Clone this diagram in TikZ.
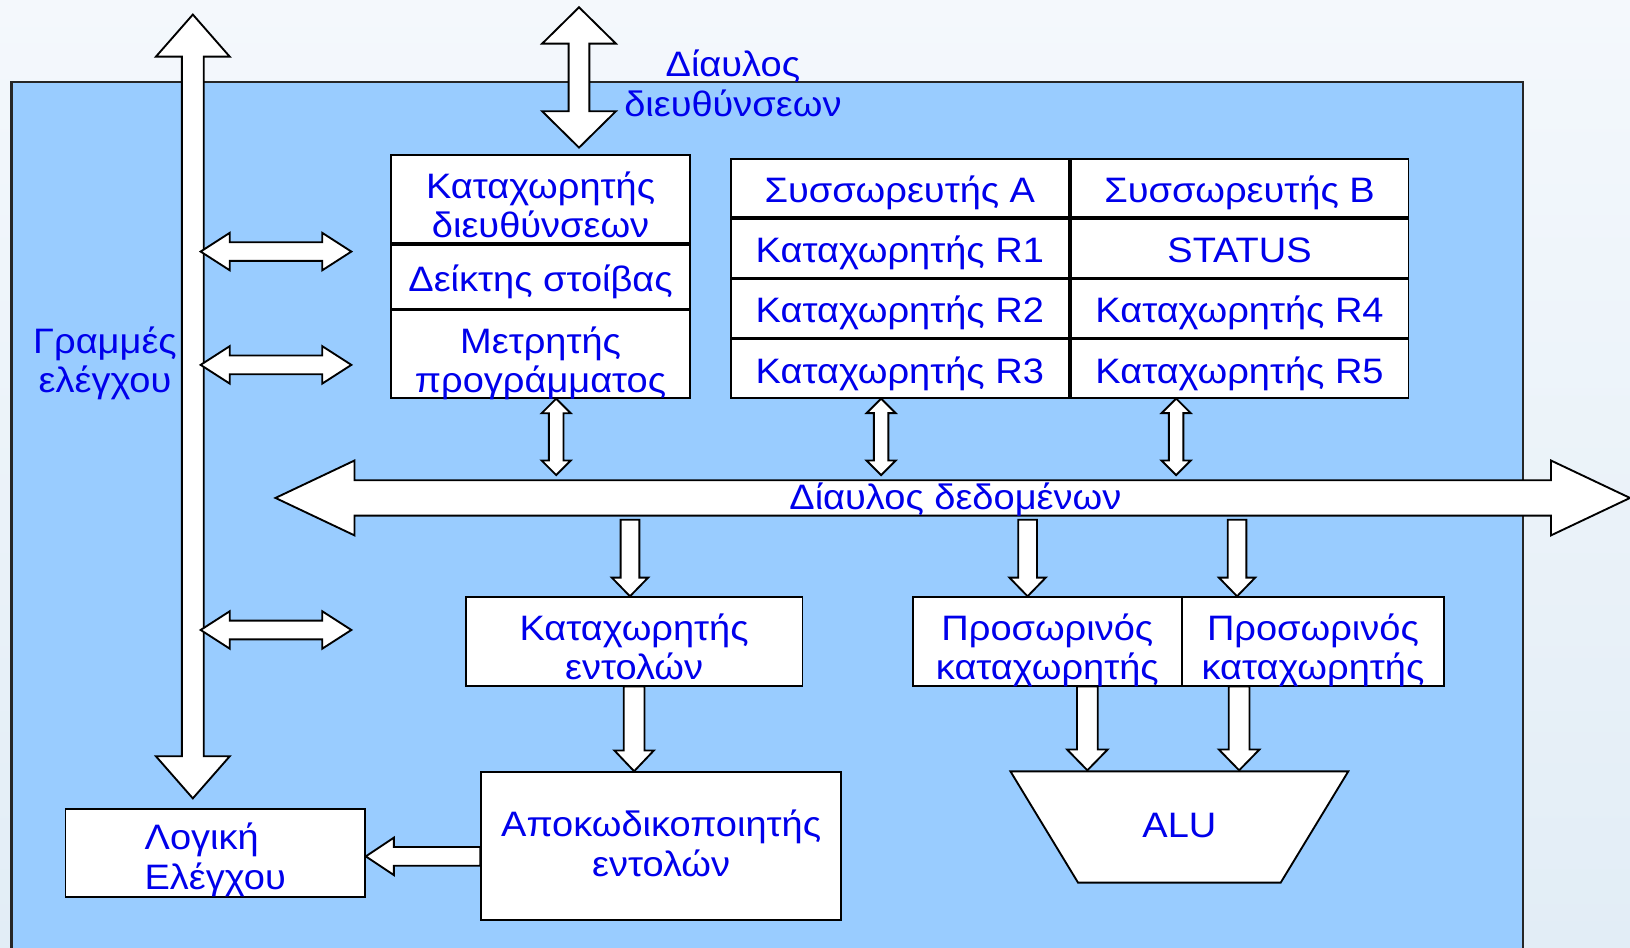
\documentclass[tikz,border=0pt]{standalone}
\usepackage{fontspec}
\setmainfont{Liberation Sans}[FakeStretch=1.075]
\usetikzlibrary{calc,positioning,matrix}

\definecolor{panel}{RGB}{153,204,255}
\definecolor{txtblue}{RGB}{0,0,235}
\definecolor{skytop}{RGB}{244,248,252}
\definecolor{skybot}{RGB}{226,237,246}

\newcommand\regfont{\fontsize{34}{38}\selectfont}
\newcommand\stacked[3][c]{\begin{tabular}[t]{@{}#1@{}}#2\\#3\end{tabular}}

\tikzset{
  blkdim/.code args={#1/#2/#3}{\def\blkS{#1}\def\blkH{#2}\def\blkL{#3}},
  blk/.style={draw=black, line width=1.8pt, fill=white, line join=miter},
  oneway/.style={blk, blkdim=#1, to path={
    ($(\tikztostart)!\blkS pt!90:(\tikztotarget)$)
    -- ($(\tikztotarget)!\blkL pt!(\tikztostart)!\blkS pt!90:(\tikztotarget)$)
    -- ($(\tikztotarget)!\blkL pt!(\tikztostart)!\blkH pt!90:(\tikztotarget)$)
    -- (\tikztotarget)
    -- ($(\tikztotarget)!\blkL pt!(\tikztostart)!\blkH pt!-90:(\tikztotarget)$)
    -- ($(\tikztotarget)!\blkL pt!(\tikztostart)!\blkS pt!-90:(\tikztotarget)$)
    -- ($(\tikztostart)!\blkS pt!-90:(\tikztotarget)$) -- cycle}},
  twoway/.style={blk, blkdim=#1, to path={
    (\tikztostart)
    -- ($(\tikztostart)!\blkL pt!(\tikztotarget)!\blkH pt!90:(\tikztotarget)$)
    -- ($(\tikztostart)!\blkL pt!(\tikztotarget)!\blkS pt!90:(\tikztotarget)$)
    -- ($(\tikztotarget)!\blkL pt!(\tikztostart)!\blkS pt!90:(\tikztotarget)$)
    -- ($(\tikztotarget)!\blkL pt!(\tikztostart)!\blkH pt!90:(\tikztotarget)$)
    -- (\tikztotarget)
    -- ($(\tikztotarget)!\blkL pt!(\tikztostart)!\blkH pt!-90:(\tikztotarget)$)
    -- ($(\tikztotarget)!\blkL pt!(\tikztostart)!\blkS pt!-90:(\tikztotarget)$)
    -- ($(\tikztostart)!\blkL pt!(\tikztotarget)!\blkS pt!-90:(\tikztotarget)$)
    -- ($(\tikztostart)!\blkL pt!(\tikztotarget)!\blkH pt!-90:(\tikztotarget)$)
    -- cycle}},
  regbox/.style={draw=black, line width=1.8pt, fill=white, inner sep=0pt, text=txtblue, font=\regfont},
  regone/.style={regbox, text height=28pt, text depth=0pt},
  regtwo/.style={regbox, text height=30pt, text depth=32pt},
  lbl/.style={inner sep=0pt, text=txtblue, font=\regfont},
}

\begin{document}
\begin{tikzpicture}[x=1pt, y=-1pt]
\useasboundingbox (0,0) rectangle (1568,911);
\shade[top color=skytop, bottom color=skybot] (0,0) rectangle (1568,911);
\draw[fill=panel, draw=black!85, line width=2.2pt] (11,79) rectangle (1465,940);

\node[regtwo, minimum width=288pt, minimum height=85pt] (mar) at (520,191.5) {\stacked{Καταχωρητής}{διευθύνσεων}};
\node[regone, minimum width=288pt, minimum height=61pt, below=0pt of mar] (sp) {Δείκτης στοίβας};
\node[regtwo, minimum width=288pt, minimum height=84pt, below=0pt of sp] (pc) {\stacked{Μετρητής}{προγράμματος}};

\matrix (regs) [matrix of nodes, anchor=north west, inner sep=0pt, column sep=0pt, row sep=0pt,
  nodes={regone, minimum width=325pt, minimum height=56pt}] at (702,152) {
Συσσωρευτής A & Συσσωρευτής B \\
Καταχωρητής R1 & STATUS \\
Καταχωρητής R2 & Καταχωρητής R4 \\
Καταχωρητής R3 & Καταχωρητής R5 \\
};

\node[regtwo, minimum width=324pt, minimum height=85pt] (ir) at (610,617) {\stacked{Καταχωρητής}{εντολών}};
\node[regtwo, minimum width=346pt, minimum height=142pt, text depth=48pt] (dec) at (636,813.8) {\stacked{Αποκωδικοποιητής}{εντολών}};
\node[regtwo, minimum width=288pt, minimum height=85pt, text depth=36pt] (logic) at (207,820.5) {\stacked[l]{Λογική}{Ελέγχου}};
\node[regtwo, minimum width=259pt, minimum height=85pt] (tmpa) at (1007.5,617) {\stacked{Προσωρινός}{καταχωρητής}};
\node[regtwo, minimum width=252pt, minimum height=85pt, right=-1.8pt of tmpa] (tmpb) {\stacked{Προσωρινός}{καταχωρητής}};

\draw[regbox] (972,742) -- (1297,742) -- (1232,849) -- (1037,849) -- cycle;
\node[lbl, anchor=base] (alu) at (1134.5,806) {ALU};

\node[lbl, anchor=base] (ctrlname) at (101,340) {\stacked{Γραμμές}{ελέγχου}};
\node[lbl, anchor=base] (addrname) at (705,74) {\stacked{Δίαυλος}{διευθύνσεων}};

\coordinate (ctltop) at (185.5,14);
\coordinate (ctlbot) at (185.5,768);
\coordinate (adrtop) at (557,7);
\coordinate (adrbot) at (557,142);
\coordinate (dbl) at (265,479);
\coordinate (dbr) at (1568,479);
\coordinate (dbtop) at (0,457);
\coordinate (dbfoot) at (0,500);
\coordinate (aluin) at (0,741);

\draw[twoway=10.5/35.5/40.5] (ctltop) to (ctlbot);
\draw[twoway=10/35.5/35] (adrtop) to (adrbot);
\draw[twoway=17/36/76] (dbl) to (dbr);
\node[lbl, anchor=base] (dbname) at (919,490.5) {Δίαυλος δεδομένων};

\foreach \y [count=\i] in {242,351,606} {
  \coordinate (cl\i) at (193,\y);
  \coordinate (cr\i) at (338,\y);
  \draw[twoway=9/18/28] (cl\i) to (cr\i);
}
\foreach \n/\dx [count=\i] in {pc/15,regs-4-1/-18,regs-4-2/-61} {
  \coordinate (up\i) at ([xshift=\dx pt]\n.south);
  \draw[twoway=7/14/14] (up\i) to (up\i |- dbtop);
}
\foreach \n/\dx [count=\i] in {ir/-4,tmpa/-19,tmpb/-73} {
  \coordinate (in\i) at ([xshift=\dx pt]\n.north);
  \draw[oneway=9/17.5/18] (in\i |- dbfoot) to (in\i);
}
\foreach \n/\dx [count=\i] in {tmpa/38.5,tmpb/-71} {
  \coordinate (out\i) at ([xshift=\dx pt]\n.south);
  \draw[oneway=10/19.5/20] (out\i) to (out\i |- aluin);
}
\draw[oneway=10/19/20] (ir.south) to (ir.south |- dec.north);
\coordinate (decout) at ([yshift=-10pt]dec.west);
\draw[oneway=9/18/27] (decout) to (decout -| logic.east);
\end{tikzpicture}
\end{document}
